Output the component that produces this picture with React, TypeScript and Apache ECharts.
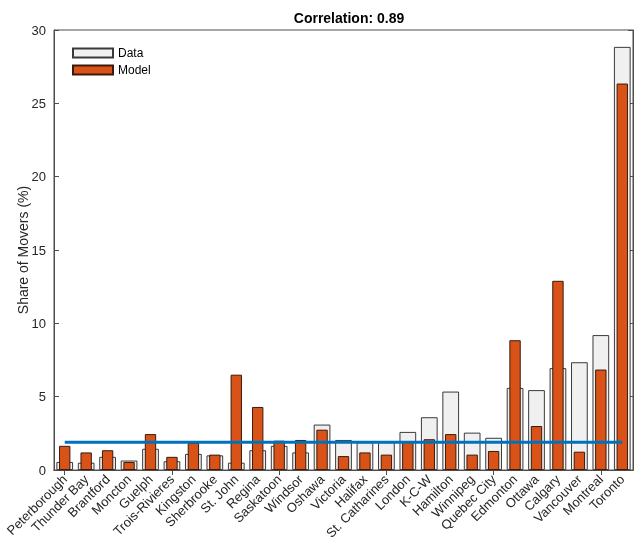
import React, { useEffect, useRef } from "react";
import * as echarts from "echarts";

const cities = [
  "Peterborough", "Thunder Bay", "Brantford", "Moncton", "Guelph", "Trois-Rivieres",
  "Kingston", "Sherbrooke", "St. John", "Regina", "Saskatoon", "Windsor", "Oshawa",
  "Victoria", "Halifax", "St. Catharines", "London", "K-C-W", "Hamilton", "Winnipeg",
  "Quebec City", "Edmonton", "Ottawa", "Calgary", "Vancouver", "Montreal", "Toronto",
];
const dataShare = [
  0.55, 0.5, 0.9, 0.65, 1.45, 0.6, 1.1, 1.0, 0.5, 1.35, 1.65, 1.2, 3.1,
  2.05, 1.9, 1.9, 2.6, 3.6, 5.35, 2.55, 2.2, 5.6, 5.45, 6.95, 7.35, 9.2, 28.85,
];
const modelShare = [
  1.65, 1.2, 1.35, 0.55, 2.45, 0.9, 1.85, 1.05, 6.5, 4.3, 2.0, 2.05, 2.75,
  0.95, 1.2, 1.05, 1.9, 2.1, 2.45, 1.05, 1.3, 8.85, 3.0, 12.9, 1.25, 6.85, 26.35,
];
const uniformShare = 1.9;
const yTicks = [0, 5, 10, 15, 20, 25, 30];

export default function App() {
  const ref = useRef<HTMLDivElement>(null);
  useEffect(() => {
    const chart = echarts.init(ref.current!, null, { renderer: "svg" });
    const font = "Liberation Sans, Arial, Helvetica, sans-serif";
    const axisColor = "#4d4d4d";
    chart.setOption({
      animation: false,
      textStyle: { fontFamily: font },
      title: {
        text: "Correlation: 0.89",
        left: 344,
        textAlign: "center",
        top: 6,
        textStyle: { fontSize: 14, fontWeight: "bold", color: "#000", fontFamily: font },
      },
      legend: {
        data: ["Data", "Model"],
        orient: "vertical",
        left: 67,
        top: 42,
        itemWidth: 40,
        itemHeight: 9,
        itemGap: 5,
        icon: "rect",
        textStyle: { fontSize: 12, color: "#000", fontFamily: font },
      },
      grid: {
        left: 54,
        right: 3,
        top: 30,
        bottom: 71,
        show: true,
        borderColor: axisColor,
        borderWidth: 1,
        backgroundColor: "#fff",
      },
      xAxis: [
        {
          type: "category",
          data: cities,
          position: "bottom",
          axisLine: { show: true, lineStyle: { color: axisColor } },
          axisTick: { show: true, inside: true, alignWithLabel: true, length: 5, lineStyle: { color: axisColor } },
          axisLabel: {
            rotate: 45,
            interval: 0,
            fontSize: 13,
            color: "#262626",
            margin: 7,
            fontFamily: font,
          },
        },
        {
          type: "category",
          data: cities,
          position: "top",
          axisLine: { show: true, lineStyle: { color: axisColor } },
          axisTick: { show: true, inside: true, alignWithLabel: true, length: 5, lineStyle: { color: axisColor } },
          axisLabel: { show: false },
        },
      ],
      yAxis: [
        {
          type: "value",
          min: 0,
          max: 30,
          interval: 5,
          name: "Share of Movers (%)",
          nameLocation: "middle",
          nameGap: 24,
          nameMoveOverlap: false,
          nameTextStyle: { fontSize: 14, color: "#262626", fontFamily: font },
          axisLine: { show: true, lineStyle: { color: axisColor } },
          axisTick: { show: true, inside: true, length: 5, lineStyle: { color: axisColor } },
          axisLabel: {
            fontSize: 13,
            color: "#262626",
            fontFamily: font,
            formatter: (v: number) => (yTicks.includes(v) ? String(v) : ""),
          },
          splitLine: { show: false },
        },
        {
          type: "value",
          min: 0,
          max: 30,
          interval: 5,
          position: "right",
          axisLine: { show: true, lineStyle: { color: axisColor } },
          axisTick: { show: true, inside: true, length: 5, lineStyle: { color: axisColor } },
          axisLabel: { show: false },
          splitLine: { show: false },
        },
      ],
      series: [
        {
          name: "Data",
          type: "bar",
          xAxisIndex: 0,
          yAxisIndex: 0,
          data: dataShare,
          barWidth: "78%",
          itemStyle: { color: "#f0f0f0", borderColor: "#3a3a3a", borderWidth: 1 },
          z: 2,
        },
        {
          name: "Model",
          type: "bar",
          xAxisIndex: 1,
          yAxisIndex: 0,
          data: modelShare,
          barWidth: "53%",
          itemStyle: { color: "#D95319", borderColor: "#3a1a0a", borderWidth: 1 },
          z: 3,
        },
        {
          name: "Uniform",
          type: "line",
          xAxisIndex: 0,
          yAxisIndex: 0,
          data: cities.map(() => uniformShare),
          symbol: "none",
          lineStyle: { color: "#0072BD", width: 3 },
          z: 4,
        },
      ],
    });
    return () => chart.dispose();
  }, []);
  return (
    <div
      ref={ref}
      style={{ position: "fixed", left: 0, top: 0, width: 636, height: 542 }}
    />
  );
}
